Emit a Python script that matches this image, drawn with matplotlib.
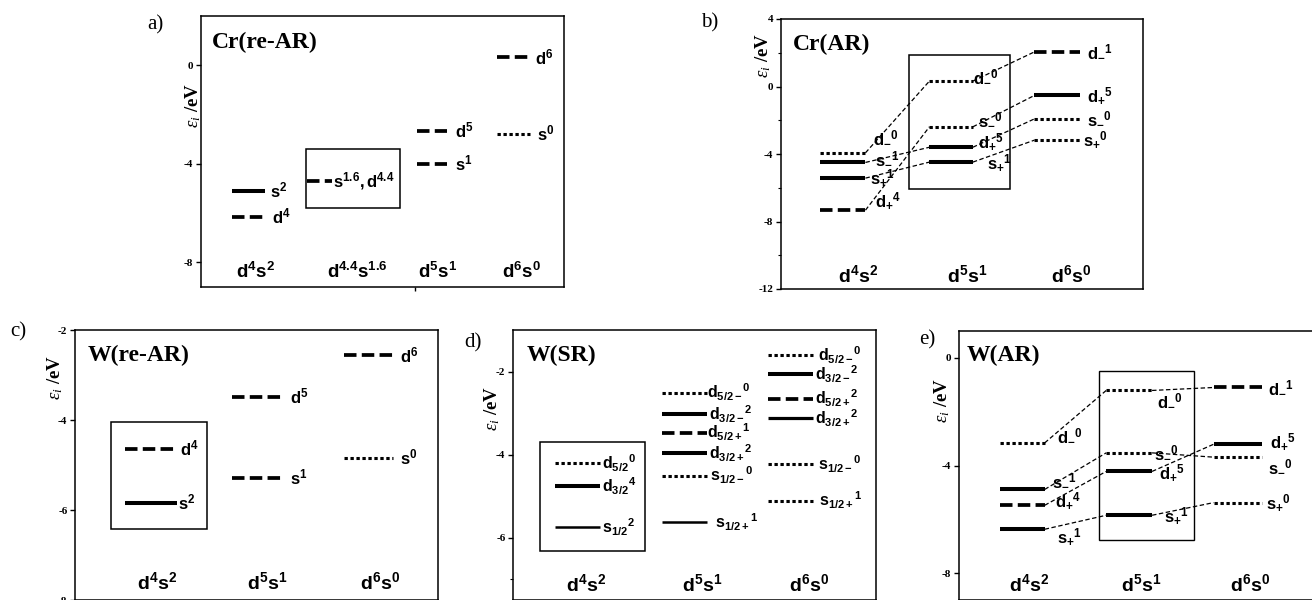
import matplotlib
matplotlib.use('Agg')
import matplotlib.pyplot as plt
from matplotlib.patches import Rectangle

plt.rcParams['font.family'] = ['Liberation Sans', 'DejaVu Sans']
plt.rcParams['mathtext.fontset'] = 'custom'
plt.rcParams['mathtext.rm'] = 'Liberation Sans:bold'
plt.rcParams['mathtext.bf'] = 'Liberation Sans:bold'
plt.rcParams['mathtext.it'] = 'Liberation Serif:italic'
plt.rcParams['mathtext.default'] = 'bf'
plt.rcParams['lines.scale_dashes'] = False
plt.rcParams['axes.unicode_minus'] = False

W, H = 1312, 600

# ---------------- data (orbital energies, eV) ----------------
configs3 = ['$d^4s^2$', '$d^5s^1$', '$d^6s^0$']

# a) Cr(re-AR)
a_configs = ['$d^4s^2$', '$d^{4.4}s^{1.6}$', '$d^5s^1$', '$d^6s^0$']
a_levels = [[-5.09, -6.15], [-4.69], [-2.65, -4.00], [0.33, -2.77]]
a_names = [['$s^2$', '$d^4$'], ['$s^{1.6},d^{4.4}$'], ['$d^5$', '$s^1$'], ['$d^6$', '$s^0$']]

# b) Cr(AR)
b_levels = [[-3.93, -4.50, -5.43, -7.33], [0.32, -2.39, -3.60, -4.48], [2.05, -0.53, -1.92, -3.18]]
b_names = [['$d_{-}{}^{0}$', '$s_{-}{}^{1}$', '$s_{+}{}^{1}$', '$d_{+}{}^{4}$'],
           ['$d_{-}{}^{0}$', '$s_{-}{}^{0}$', '$d_{+}{}^{5}$', '$s_{+}{}^{1}$'],
           ['$d_{-}{}^{1}$', '$d_{+}{}^{5}$', '$s_{-}{}^{0}$', '$s_{+}{}^{0}$']]
b_links = [[(0, 0), (1, 2), (2, 3), (3, 1)], [(0, 0), (1, 1), (2, 2), (3, 3)]]

# c) W(re-AR)
c_levels = [[-4.64, -5.84], [-3.48, -5.28], [-2.56, -4.84]]
c_names = [['$d^4$', '$s^2$'], ['$d^5$', '$s^1$'], ['$d^6$', '$s^0$']]

# d) W(SR)
d_levels = [[-4.20, -4.76, -5.75],
            [-2.51, -3.03, -3.47, -3.96, -4.51, -5.62],
            [-1.60, -2.06, -2.65, -3.12, -4.23, -5.11]]
d_names = [['$d_{5/2}{}^{0}$', '$d_{3/2}{}^{4}$', '$s_{1/2}{}^{2}$'],
           ['$d_{5/2-}{}^{0}$', '$d_{3/2-}{}^{2}$', '$d_{5/2+}{}^{1}$', '$d_{3/2+}{}^{2}$',
            '$s_{1/2-}{}^{0}$', '$s_{1/2+}{}^{1}$'],
           ['$d_{5/2-}{}^{0}$', '$d_{3/2-}{}^{2}$', '$d_{5/2+}{}^{2}$', '$d_{3/2+}{}^{2}$',
            '$s_{1/2-}{}^{0}$', '$s_{1/2+}{}^{1}$']]

# e) W(AR)
e_levels = [[-3.16, -4.89, -5.48, -6.37], [-1.21, -3.53, -4.22, -5.85], [-1.10, -3.21, -3.69, -5.38]]
e_names = [['$d_{-}{}^{0}$', '$s_{-}{}^{1}$', '$d_{+}{}^{4}$', '$s_{+}{}^{1}$'],
           ['$d_{-}{}^{0}$', '$s_{-}{}^{0}$', '$d_{+}{}^{5}$', '$s_{+}{}^{1}$'],
           ['$d_{-}{}^{1}$', '$d_{+}{}^{5}$', '$s_{-}{}^{0}$', '$s_{+}{}^{0}$']]
e_links = [[(0, 0), (1, 1), (2, 2), (3, 3)], [(0, 0), (1, 2), (2, 1), (3, 3)]]

# ---------------- styles ----------------
STYLE = {
    'S': dict(lw=2.9, ls='-'),
    's': dict(lw=1.8, ls='-'),
    'm': dict(lw=2.3, ls='-'),
    'D': dict(lw=2.7, ls=(0, (9, 3.8))),
    'o': dict(lw=2.2, ls=(0, (2.4, 1.9))),
}

a_styles = [['S', 'D'], ['D'], ['D', 'D'], ['D', 'o']]
b_styles = [['o', 'S', 'S', 'D'], ['o', 'o', 'S', 'S'], ['D', 'S', 'o', 'o']]
c_styles = [['D', 'S'], ['D', 'D'], ['D', 'o']]
d_styles = [['o', 'S', 's'], ['o', 'S', 'D', 'S', 'o', 's'], ['o', 'S', 'D', 'm', 'o', 'o']]
e_styles = [['o', 'S', 'D', 'S'], ['o', 'o', 'S', 'S'], ['D', 'S', 'o', 'o']]

# label offsets in pixels (dx, dy up)
a_offs = [[(5, 0), (7, 0)], [(1, 0)], [(8, 0), (8, 0)], [(5, 0), (7, 0)]]
b_offs = [[(8, 15), (10, 4), (5, 0), (10, 9)], [(0, 4), (5, 7), (5, 6), (14, -1)], [(7, 0), (7, 0), (7, 0), (3, 0)]]
c_offs = [[(3, 0), (1, 0)], [(7, 0), (7, 0)], [(7, 0), (7, 0)]]
d_offs = [[(2, 0), (2, 0), (2, 0)], [(0, 0), (2, 0), (0, 0), (2, 0), (3, 0), (8, 0)],
          [(5, 0), (2, 0), (2, 0), (2, 0), (5, 0), (6, 0)]]
e_offs = [[(12, 7), (7, 9), (10, 5), (12, -7)], [(5, -10), (2, 0), (7, -1), (12, 0)], [(6, 0), (8, 3), (6, -10), (4, 0)]]

fig = plt.figure(figsize=(W / 100, H / 100), dpi=100)


def make_axes(l, t, r, b):
    return fig.add_axes([l / W, 1 - b / H, (r - l) / W, (b - t) / H])


def setup(ax, xlim, ylim, major, minor=()):
    ax.set_xlim(*xlim)
    ax.set_ylim(*ylim)
    ax.set_xticks([])
    ax.set_yticks(major)
    ax.set_yticks(list(minor), minor=True)
    ax.set_yticklabels([f'{t:g}' for t in major])
    ax.tick_params(axis='y', which='major', direction='out', length=3.5, width=1, pad=2, labelsize=8)
    ax.tick_params(axis='y', which='minor', direction='out', length=2, width=0.8)
    for lab in ax.get_yticklabels():
        lab.set_fontfamily('Liberation Serif')
        lab.set_fontweight('bold')
    for sp in ax.spines.values():
        sp.set_linewidth(1.1)


def draw_levels(ax, levels, names, styles, spans, offs, fs):
    for col in range(len(levels)):
        x0, x1 = spans[col]
        for v, lab, st, (dx, dy) in zip(levels[col], names[col], styles[col], offs[col]):
            ax.plot([x0, x1], [v, v], color='black', solid_capstyle='butt',
                    dash_capstyle='butt', zorder=2, **STYLE[st])
            ax.annotate(lab, (x1, v), xytext=(dx * 0.72, dy * 0.72), textcoords='offset points',
                        ha='left', va='center', fontsize=fs, zorder=3)


def draw_links(ax, levels, spans, links):
    for col, pairs in enumerate(links):
        for i, j in pairs:
            ax.plot([spans[col][1], spans[col + 1][0]], [levels[col][i], levels[col + 1][j]],
                    color='black', lw=0.9, ls=(0, (3.2, 1.8)), zorder=1)


def draw_configs(ax, labels, xs, y, fs):
    for lab, x in zip(labels, xs):
        ax.text(x, y, lab, ha='center', va='center', fontsize=fs)


def add_box(ax, x0, x1, y0, y1, lw=1.1):
    ax.add_patch(Rectangle((x0, y0), x1 - x0, y1 - y0, fill=False, lw=lw, ec='black', zorder=1.5))


def deco(letter, lxy, title, txy, yl_xy):
    fig.text(lxy[0] / W, 1 - lxy[1] / H, letter, family='Liberation Serif', fontsize=15,
             ha='center', va='center')
    fig.text(txy[0] / W, 1 - txy[1] / H, title, family='Liberation Serif', fontweight='bold',
             fontsize=17, ha='left', va='center')
    fig.text(yl_xy[0] / W, 1 - yl_xy[1] / H, r'$\mathit{ε_i}$ /eV', family='Liberation Serif',
             fontweight='bold', fontsize=13.5, rotation=90, ha='center', va='center')


# ---- a) ----
ax = make_axes(201, 16, 564, 287)
setup(ax, (0, 4), (-9, 2), [0, -4, -8])
ax.set_xticks([2.36])
ax.set_xticklabels([])
ax.tick_params(axis='x', direction='out', length=3, width=1)
a_spans = [(0.34, 0.70), (1.17, 1.44), (2.38, 2.71), (3.26, 3.63)]
add_box(ax, 1.16, 2.19, -5.78, -3.38)
draw_levels(ax, a_levels, a_names, a_styles, a_spans, a_offs, 12)
draw_configs(ax, a_configs, [0.6, 1.72, 2.61, 3.53], -8.4, 13.5)
deco('a)', (155, 25), 'Cr(re-AR)', (212, 42), (193, 105))

# ---- b) ----
ax = make_axes(781, 19, 1143, 289)
setup(ax, (0, 3), (-12, 4), [4, 0, -4, -8, -12], [2, -2, -6, -10])
b_spans = [(0.32, 0.70), (1.23, 1.59), (2.10, 2.48)]
add_box(ax, 1.06, 1.90, -6.1, 1.84)
draw_links(ax, b_levels, b_spans, b_links)
draw_levels(ax, b_levels, b_names, b_styles, b_spans, b_offs, 12)
draw_configs(ax, configs3, [0.64, 1.54, 2.40], -11.2, 14)
deco('b)', (710, 23), 'Cr(AR)', (793, 44), (763, 55))

# ---- c) ----
ax = make_axes(75, 330, 438, 600)
setup(ax, (0, 3), (-8, -2), [-2, -4, -6, -8])
c_spans = [(0.41, 0.84), (1.30, 1.72), (2.22, 2.63)]
add_box(ax, 0.30, 1.09, -6.42, -4.04)
draw_levels(ax, c_levels, c_names, c_styles, c_spans, c_offs, 12)
draw_configs(ax, configs3, [0.68, 1.59, 2.52], -7.6, 14)
deco('c)', (18, 332), 'W(re-AR)', (88, 355), (55, 377))

# ---- d) ----
ax = make_axes(513, 330, 876, 600)
setup(ax, (0, 3), (-7.5, -1), [-2, -4, -6], [-7])
d_spans = [(0.35, 0.72), (1.23, 1.60), (2.11, 2.48)]
add_box(ax, 0.22, 1.09, -6.31, -3.69)
draw_levels(ax, d_levels, d_names, d_styles, d_spans, d_offs, 11.5)
draw_configs(ax, configs3, [0.60, 1.56, 2.45], -7.13, 14)
deco('d)', (473, 343), 'W(SR)', (527, 355), (492, 408))

# ---- e) ----
ax = make_axes(959, 331, 1321, 600)
setup(ax, (0, 3), (-9, 1), [0, -4, -8])
e_spans = [(0.34, 0.71), (1.22, 1.60), (2.11, 2.51)]
add_box(ax, 1.16, 1.95, -6.77, -0.5, lw=1.0)
draw_links(ax, e_levels, e_spans, e_links)
draw_levels(ax, e_levels, e_names, e_styles, e_spans, e_offs, 12)
draw_configs(ax, configs3, [0.58, 1.51, 2.41], -8.41, 14)
deco('e)', (927, 340), 'W(AR)', (967, 355), (942, 400))

fig.savefig('out.png', dpi=100)
